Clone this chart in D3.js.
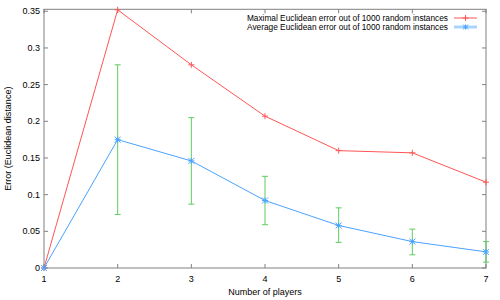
<!DOCTYPE html>
<html>
<head>
<meta charset="utf-8">
<script src="https://cdn.jsdelivr.net/npm/d3@7"></script>
<style>
  html, body { margin: 0; padding: 0; background: #fff; }
  svg { display: block; font-family: "Liberation Sans", Arial, sans-serif; }
  .tick-label { font-size: 9px; fill: #000; }
  .title { font-size: 9px; fill: #000; }
  .legend-label { font-size: 8.3px; fill: #000; }
</style>
</head>
<body>
<svg id="chart" width="500" height="300"></svg>
<script>
(function () {
  "use strict";

  const players = [1, 2, 3, 4, 5, 6, 7];
  const maxError = [0, 0.352, 0.277, 0.207, 0.160, 0.157, 0.117];
  const avgError = [0, 0.175, 0.146, 0.092, 0.058, 0.036, 0.022];
  const errLow = [0, 0.073, 0.087, 0.059, 0.035, 0.018, 0.008];
  const errHigh = [0, 0.277, 0.205, 0.125, 0.082, 0.053, 0.036];
  const yTicks = [0, 0.05, 0.1, 0.15, 0.2, 0.25, 0.3, 0.35];
  const legendLabels = [
    "Maximal Euclidean error out of 1000 random instances",
    "Average Euclidean error out of 1000 random instances"
  ];

  const RED = "#ff5555";
  const BLUE = "#4aa3ff";
  const GREEN = "#5fcc5f";
  const FRAME = "#808080";

  const svg = d3.select("#chart");
  const left = 44, right = 486, top = 9.3, bottom = 268;

  const x = d3.scaleLinear().domain([1, 7]).range([left, right]);
  const y = d3.scaleLinear().domain([0, 0.3527]).range([bottom, top]);

  // frame
  svg.append("rect")
    .attr("x", left).attr("y", top)
    .attr("width", right - left).attr("height", bottom - top)
    .attr("fill", "none").attr("stroke", FRAME).attr("stroke-width", 1);

  // ticks (inward, mirrored)
  const tl = 4;
  players.forEach((p) => {
    svg.append("line").attr("x1", x(p)).attr("x2", x(p)).attr("y1", bottom).attr("y2", bottom - tl).attr("stroke", FRAME);
    svg.append("line").attr("x1", x(p)).attr("x2", x(p)).attr("y1", top).attr("y2", top + tl).attr("stroke", FRAME);
    svg.append("text").attr("class", "tick-label")
      .attr("x", x(p)).attr("y", bottom + 14)
      .attr("text-anchor", "middle").text(p);
  });
  yTicks.forEach((t) => {
    svg.append("line").attr("x1", left).attr("x2", left + tl).attr("y1", y(t)).attr("y2", y(t)).attr("stroke", FRAME);
    svg.append("line").attr("x1", right).attr("x2", right - tl).attr("y1", y(t)).attr("y2", y(t)).attr("stroke", FRAME);
    svg.append("text").attr("class", "tick-label")
      .attr("x", left - 4).attr("y", y(t) + 3)
      .attr("text-anchor", "end").text(String(t));
  });

  svg.append("text").attr("class", "title")
    .attr("x", (left + right) / 2).attr("y", 295)
    .attr("text-anchor", "middle").text("Number of players");
  svg.append("text").attr("class", "title")
    .attr("transform", `translate(11,${(top + bottom) / 2}) rotate(-90)`)
    .attr("text-anchor", "middle").text("Error (Euclidean distance)");

  const line = d3.line().x((d) => x(d[0])).y((d) => y(d[1]));
  const maxPts = players.map((p, i) => [p, maxError[i]]);
  const avgPts = players.map((p, i) => [p, avgError[i]]);

  // error bars
  const cap = 3;
  players.forEach((p, i) => {
    if (i === 0) return;
    const g = svg.append("g").attr("stroke", GREEN).attr("stroke-width", 1);
    g.append("line").attr("x1", x(p)).attr("x2", x(p)).attr("y1", y(errLow[i])).attr("y2", y(errHigh[i]));
    g.append("line").attr("x1", x(p) - cap).attr("x2", x(p) + cap).attr("y1", y(errLow[i])).attr("y2", y(errLow[i]));
    g.append("line").attr("x1", x(p) - cap).attr("x2", x(p) + cap).attr("y1", y(errHigh[i])).attr("y2", y(errHigh[i]));
  });

  svg.append("path").datum(maxPts).attr("d", line)
    .attr("fill", "none").attr("stroke", RED).attr("stroke-width", 1);
  svg.append("path").datum(avgPts).attr("d", line)
    .attr("fill", "none").attr("stroke", BLUE).attr("stroke-width", 1);

  function plus(g, cx, cy, s, color) {
    g.append("path").attr("d", `M${cx - s},${cy}H${cx + s}M${cx},${cy - s}V${cy + s}`)
      .attr("stroke", color).attr("stroke-width", 1).attr("fill", "none");
  }
  function star(g, cx, cy, s, color) {
    g.append("path").attr("d",
      `M${cx - s},${cy - s}L${cx + s},${cy + s}M${cx - s},${cy + s}L${cx + s},${cy - s}M${cx - s},${cy}H${cx + s}M${cx},${cy - s}V${cy + s}`)
      .attr("stroke", color).attr("stroke-width", 1).attr("fill", "none");
  }

  const marks = svg.append("g");
  maxPts.forEach((d) => plus(marks, x(d[0]), y(d[1]), 3, RED));
  avgPts.forEach((d) => star(marks, x(d[0]), y(d[1]), 3, BLUE));

  // legend
  const lx = 448, ly = [18, 27];
  legendLabels.forEach((label, i) => {
    svg.append("text").attr("class", "legend-label")
      .attr("x", lx).attr("y", ly[i] + 3)
      .attr("text-anchor", "end").text(label);
  });
  svg.append("line").attr("x1", 454).attr("x2", 477).attr("y1", ly[0]).attr("y2", ly[0]).attr("stroke", RED);
  plus(svg, 465.5, ly[0], 3, RED);
  svg.append("line").attr("x1", 454).attr("x2", 477).attr("y1", ly[1]).attr("y2", ly[1])
    .attr("stroke", "#a8d4ff").attr("stroke-width", 3);
  star(svg, 465.5, ly[1], 2.5, BLUE);
})();
</script>
</body>
</html>
